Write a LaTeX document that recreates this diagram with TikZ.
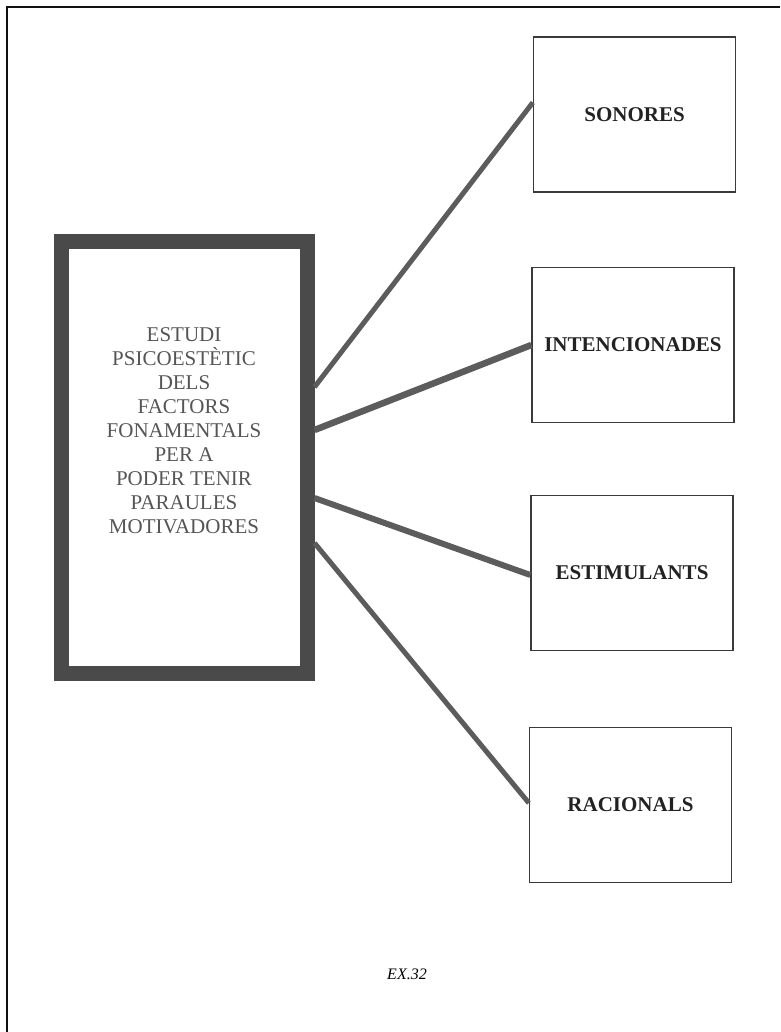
\documentclass[tikz,border=0pt]{standalone}
\usepackage{fontspec}
\setmainfont{Liberation Serif}
\usetikzlibrary{calc}
\definecolor{frameink}{HTML}{111111}
\definecolor{mainink}{HTML}{4A4A4A}
\definecolor{mainfont}{HTML}{555555}
\definecolor{boxink}{HTML}{3A3A3A}
\definecolor{linkink}{HTML}{5C5C5C}
\definecolor{labelink}{HTML}{222222}
\tikzset{
  mainbox/.style={draw=mainink, line width=15pt, minimum width=246pt, minimum height=432pt, inner sep=0pt},
  maintext/.style={align=center, text=mainfont, font=\fontsize{21}{24}\selectfont, inner sep=0pt},
  catbox/.style={draw=boxink, line width=1.3pt, minimum width=202pt, minimum height=155pt, inner sep=0pt,
    text=labelink, font=\fontsize{21}{24}\selectfont\bfseries},
  link/.style={draw=linkink, line width=6pt},
  caption/.style={font=\fontsize{16}{18}\selectfont\itshape, inner sep=0pt}
}
\begin{document}
\begin{tikzpicture}[x=1pt, y=-1pt]
\useasboundingbox (0,0) rectangle (780,1032);
% outer page frame (left and top only)
\coordinate (fa) at (7,1032);
\coordinate (fb) at (7,7);
\coordinate (fc) at (780,7);
\draw[frameink, line width=2pt] (fa) -- (fb) -- (fc);
% main box
\node[mainbox] (main) at (184,457) {};
\node[maintext] (mainlabel) at (184,431) {ESTUDI\\PSICOESTÈTIC\\DELS\\FACTORS\\FONAMENTALS\\PER A\\PODER TENIR\\PARAULES\\MOTIVADORES};
% category boxes
\node[catbox] (b1) at (634.5,114.5) {SONORES};
\node[catbox] (b2) at (633,345) {INTENCIONADES};
\node[catbox] (b3) at (632,573) {ESTIMULANTS};
\node[catbox] (b4) at (630.5,805) {RACIONALS};
% connectors
\draw[link, line width=5pt] ($(main.east)+(0,-70)$) -- ($(b1.west)+(0,-12)$);
\draw[link, line width=6.5pt] ($(main.east)+(0,-27)$) -- (b2.west);
\draw[link] ($(main.east)+(0,41)$) -- ($(b3.west)+(0,2)$);
\draw[link, line width=5pt] ($(main.east)+(0,86)$) -- ($(b4.west)+(0,-2)$);
% caption
\node[caption] (cap) at (407,974) {EX.32};
\end{tikzpicture}
\end{document}
